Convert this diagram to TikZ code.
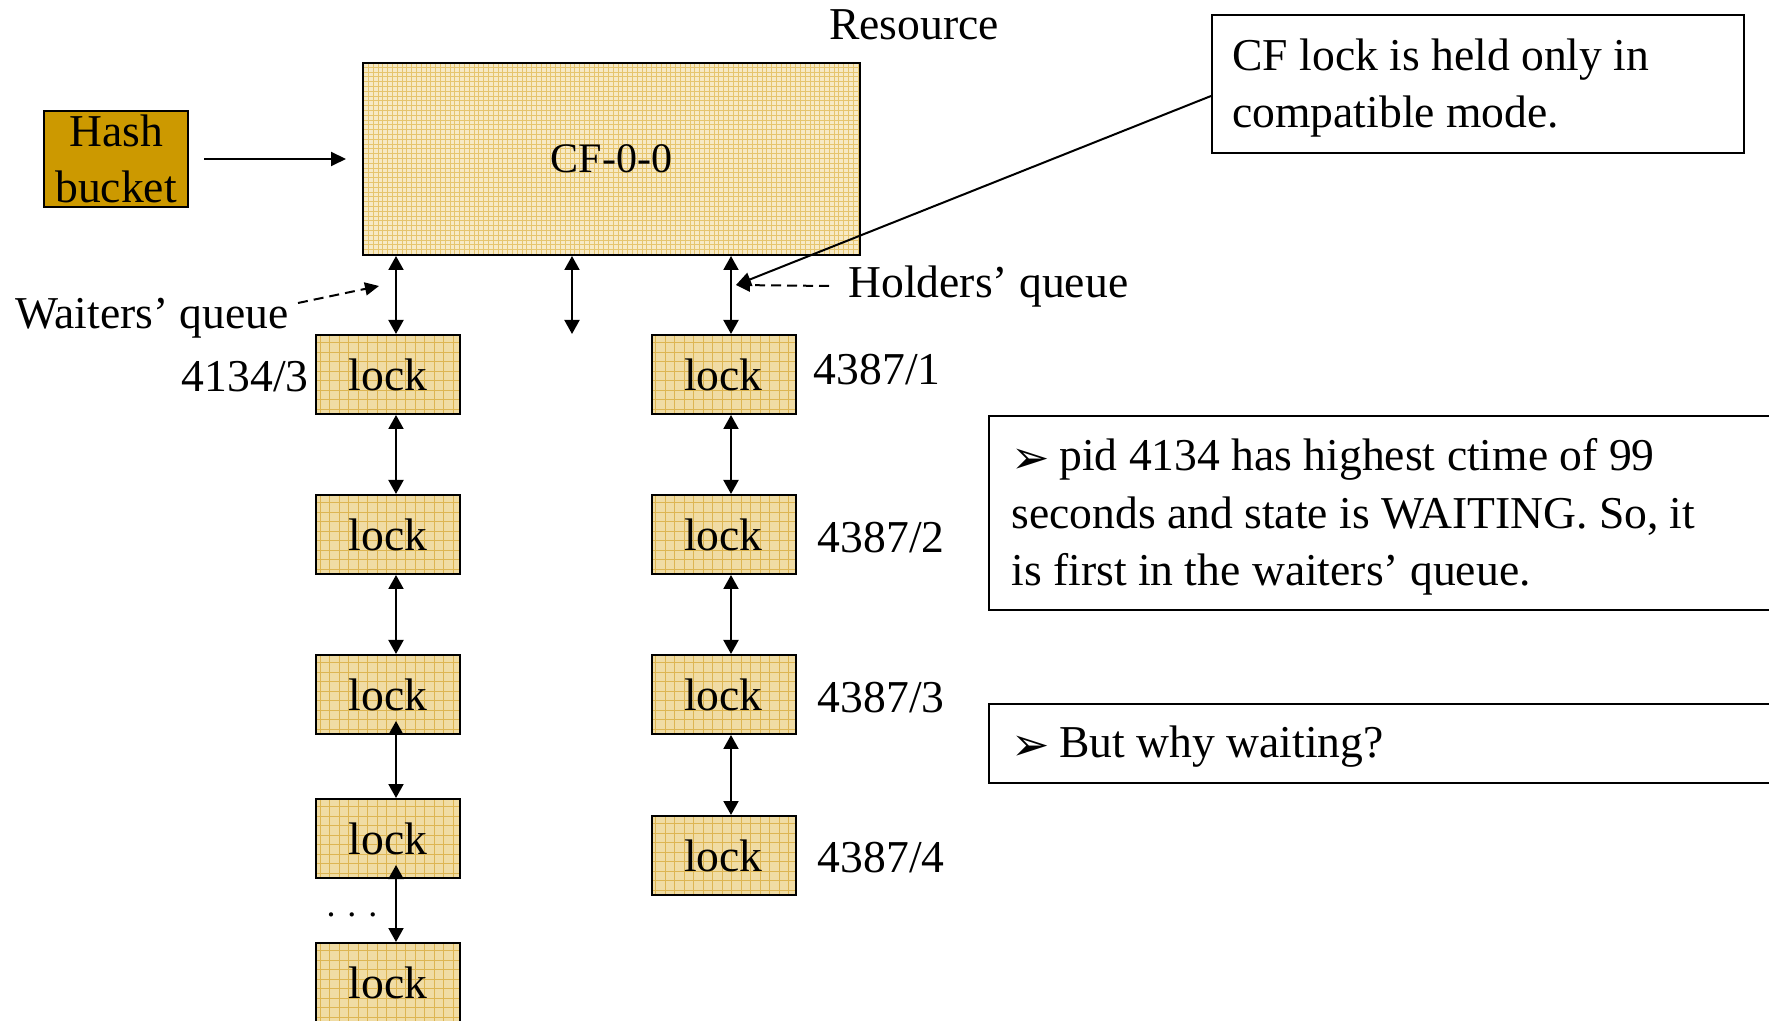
\documentclass[tikz,border=0pt]{standalone}
\usepackage{fontspec}
\setmainfont{Liberation Serif}
\newfontfamily\dejavu{DejaVu Sans}
\usetikzlibrary{arrows.meta,calc}
\definecolor{cfFill}{HTML}{F7EAC6}
\definecolor{cfGrid}{HTML}{E6C56E}
\definecolor{lockFill}{HTML}{F0DCA4}
\definecolor{lockGrid}{HTML}{DDB552}
\definecolor{hashFill}{HTML}{CC9900}
\newcommand{\bul}{\makebox[24pt][l]{\raisebox{-1.5pt}{\dejavu\fontsize{23}{23}\selectfont ➢}}}
\begin{document}
\begin{tikzpicture}[x=0.5pt,y=-0.5pt,
  every node/.style={font=\fontsize{22.8}{28}\selectfont},
  lockbox/.style={draw, line width=1pt, fill=lockFill, minimum width=72pt, minimum height=39.5pt, inner sep=0pt,
    path picture={\draw[lockGrid, line width=0.45pt, step=4.75pt] (path picture bounding box.south west) grid (path picture bounding box.north east);}},
  cfbox/.style={draw, line width=1pt, fill=cfFill, minimum width=248.5pt, minimum height=96pt, inner sep=0pt, font=\fontsize{21}{25}\selectfont,
    path picture={\draw[cfGrid, line width=0.35pt, step=2.4pt] (path picture bounding box.south west) grid (path picture bounding box.north east);}},
  hashbox/.style={draw, line width=1pt, fill=hashFill, minimum width=72pt, minimum height=48pt, inner sep=0pt, align=center, font=\fontsize{22.8}{28}\selectfont},
  notebox/.style={draw, line width=1pt, anchor=north west, inner sep=0pt},
  notetext/.style={anchor=west, align=left, inner sep=0pt, font=\fontsize{22.8}{28.75}\selectfont},
  dbl/.style={line width=1pt, {Triangle[length=7pt,width=7.5pt]}-{Triangle[length=7pt,width=7.5pt]}},
  sarrow/.style={line width=1pt, -{Triangle[length=7.5pt,width=7pt]}},
  darrow/.style={line width=1pt, dash pattern=on 5pt off 3pt, -{Triangle[length=7pt,width=6.5pt]}},
  lbl/.style={inner sep=0pt}
]
\useasboundingbox (0,0) rectangle (1769,1021);
\clip (0,0) rectangle (1769,1021);

% main boxes
\node[cfbox] (cf) at (611.5,159) {CF-0-0};
\node[hashbox] (hash) at (116,159) {Hash\\bucket};
\node (res) at (914,25) {Resource};

\foreach \n/\yy in {1/374.5,2/534.5,3/694.5,4/838.5,5/982.5}
  \node[lockbox] (L\n) at (388,\yy) {lock};
\foreach \n/\yy in {1/374.5,2/534.5,3/694.5,4/855.5}
  \node[lockbox] (R\n) at (723.5,\yy) {lock};

% column coordinates
\coordinate (xl) at (396,0);
\coordinate (xr) at (731,0);
\coordinate (xm) at (572,0);
\coordinate (mEnd) at (572,334);
\coordinate (tip) at (736,285);

% hash -> cf
\draw[sarrow, shorten <=7.5pt, shorten >=8pt] (hash.east) -- (cf.west |- hash.east);

% resource -> queues
\draw[dbl] (cf.south -| xl) -- (L1.north -| xl);
\draw[dbl] (cf.south -| xm) -- (mEnd);
\draw[dbl] (cf.south -| xr) -- (R1.north -| xr);

% waiters chain
\draw[dbl] (L1.south -| xl) -- (L2.north -| xl);
\draw[dbl] (L2.south -| xl) -- (L3.north -| xl);
\draw[dbl] ($(L3.south -| xl)+(0,-14)$) -- (L4.north -| xl);
\draw[dbl] ($(L4.south -| xl)+(0,-14)$) -- (L5.north -| xl);
\node[font=\fontsize{18}{18}\selectfont] (dots) at (352,915) {.\,\,.\,\,.};

% holders chain
\draw[dbl] (R1.south -| xr) -- (R2.north -| xr);
\draw[dbl] (R2.south -| xr) -- (R3.north -| xr);
\draw[dbl] (R3.south -| xr) -- (R4.north -| xr);

% labels
\node[lbl, anchor=east] (p1) at ($(L1.west)+(-6,2)$) {4134/3};
\node[lbl, anchor=west] (q1) at ($(R1.east)+(17,-5)$) {4387/1};
\node[lbl, anchor=west] (q2) at ($(R2.east)+(21,3)$) {4387/2};
\node[lbl, anchor=west] (q3) at ($(R3.east)+(21,3)$) {4387/3};
\node[lbl, anchor=west] (q4) at ($(R4.east)+(21,2)$) {4387/4};

% queue labels
\node (wq) at (152,318.5) {Waiters’ queue};
\node[lbl, anchor=west] (hq) at (848,287) {Holders’ queue};
\coordinate (wqs) at (298,303);
\coordinate (wqt) at (379,286);
\draw[darrow] (wqs) -- (wqt);
\draw[darrow] ($(hq.west)+(-19,-1)$) -- (tip);

% notes
\node[notebox, minimum width=266pt, minimum height=69pt] (n1) at (1211,14) {};
\node[notetext] (n1t) at (1232,88) {CF lock is held only in\\compatible mode.};
\draw[sarrow] ($(n1.west)+(0,12)$) -- (tip);

\node[notebox, minimum width=420pt, minimum height=97pt] (n2) at (988,415) {};
\node[notetext] (n2t) at (1011,517)
  {\bul pid 4134 has highest ctime of 99\\seconds and state is WAITING. So, it\\is first in the waiters’ queue.};

\node[notebox, minimum width=420pt, minimum height=39.5pt] (n3) at (988,703) {};
\node[notetext] (n3t) at (1011,747) {\bul But why waiting?};
\end{tikzpicture}
\end{document}
